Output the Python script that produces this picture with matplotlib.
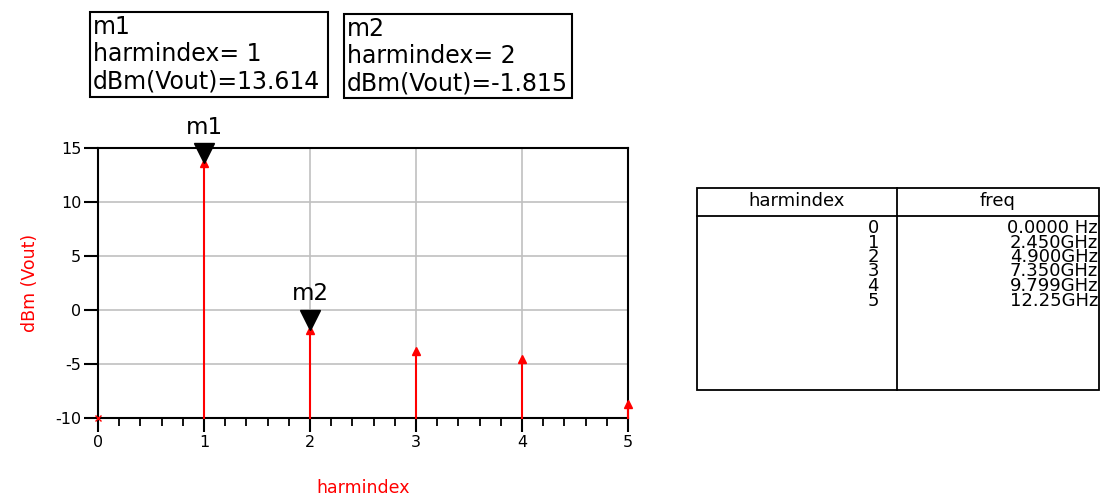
import matplotlib.pyplot as plt
import matplotlib.transforms as mtransforms
from matplotlib.patches import Rectangle
from matplotlib.lines import Line2D

plt.rcParams['font.family'] = ['DejaVu Sans']
plt.rcParams['axes.unicode_minus'] = False

# data
harmindex = [0, 1, 2, 3, 4, 5]
dbm_vout = [-10.0, 13.614, -1.815, -3.8, -4.5, -8.7]
freq_labels = ["0.0000 Hz", "2.450GHz", "4.900GHz", "7.350GHz", "9.799GHz", "12.25GHz"]
markers = [("m1", 1, 13.614), ("m2", 2, -1.815)]

W, H = 1102, 501
fig = plt.figure(figsize=(W / 100, H / 100), dpi=100)

def fx(px):
    return px / W

def fy(py):
    return 1 - py / H

ax = fig.add_axes([fx(98), fy(418), fx(628) - fx(98), fy(148) - fy(418)])
ax.set_xlim(0, 5)
ax.set_ylim(-10, 15)
ax.set_xticks(harmindex)
ax.set_xticks([i / 5 for i in range(26)], minor=True)
ax.set_yticks([-10, -5, 0, 5, 10, 15])
ax.grid(True, which='major', color='#c0c0c0', linewidth=1.2)
ax.set_axisbelow(True)
for s in ax.spines.values():
    s.set_linewidth(1.5)
ax.tick_params(which='major', length=10, width=1.5, labelsize=11.5, direction='out', pad=2)
ax.tick_params(which='minor', length=5.5, width=1.3)

# stems
for x, y in zip(harmindex, dbm_vout):
    ax.plot([x, x], [-10, y], color='red', linewidth=1.5, clip_on=False, zorder=3)
ax.plot(harmindex[1:], dbm_vout[1:], linestyle='none', marker='^', color='red',
        markersize=5.5, clip_on=False, zorder=4)
ax.plot(harmindex[:1], dbm_vout[:1], linestyle='none', marker='x', color='red',
        markersize=4, clip_on=False, zorder=4)

# marker triangles, tip on the data point
ms = 14.5
for name, x, y in markers:
    tr = mtransforms.offset_copy(ax.transData, fig=fig, x=0, y=ms / 2, units='points')
    ax.plot([x], [y], marker='v', color='black', markersize=ms, transform=tr,
            clip_on=False, zorder=5)
    ax.annotate(name, (x, y), xytext=(0, ms + 3), textcoords='offset points',
                ha='center', va='bottom', fontsize=16.5, annotation_clip=False)

ax.set_xlabel("harmindex", color='red', fontsize=12.5, labelpad=21)
ax.set_ylabel("dBm (Vout)", color='red', fontsize=12.5, labelpad=12)

# marker readout boxes
boxes = [(90, 12, 328, 97), (344, 14, 572, 98)]
for (name, x, y), (x0, y0, x1, y1) in zip(markers, boxes):
    fig.patches.append(Rectangle((fx(x0), fy(y1)), fx(x1) - fx(x0), fy(y0) - fy(y1),
                                 transform=fig.transFigure, fill=False,
                                 edgecolor='black', linewidth=1.5))
    txt = f"{name}\nharmindex= {x}\ndBm(Vout)={y:.3f}"
    fig.text(fx(x0 + 3), fy(y0 + 3), txt, ha='left', va='top', fontsize=17,
             linespacing=1.18)

# table
tx0, tx1, tdiv = 697, 1099, 897
ty0, thead, ty1 = 188, 216, 390
fig.patches.append(Rectangle((fx(tx0), fy(ty1)), fx(tx1) - fx(tx0), fy(ty0) - fy(ty1),
                             transform=fig.transFigure, fill=False,
                             edgecolor='black', linewidth=1.3))
fig.add_artist(Line2D([fx(tx0), fx(tx1)], [fy(thead), fy(thead)], color='black', linewidth=1.3))
fig.add_artist(Line2D([fx(tdiv), fx(tdiv)], [fy(ty0), fy(ty1)], color='black', linewidth=1.3))
fig.text(fx((tx0 + tdiv) / 2), fy(201), "harmindex", ha='center', va='center', fontsize=13)
fig.text(fx((tdiv + tx1) / 2), fy(201), "freq", ha='center', va='center', fontsize=13)
col_h = "\n".join(str(h) for h in harmindex)
col_f = "\n".join(freq_labels)
fig.text(fx(879), fy(219), col_h, ha='right', va='top', fontsize=13, linespacing=0.75)
fig.text(fx(1098), fy(219), col_f, ha='right', va='top', fontsize=13, linespacing=0.75)

fig.savefig("out.png", dpi=100, facecolor='white')
